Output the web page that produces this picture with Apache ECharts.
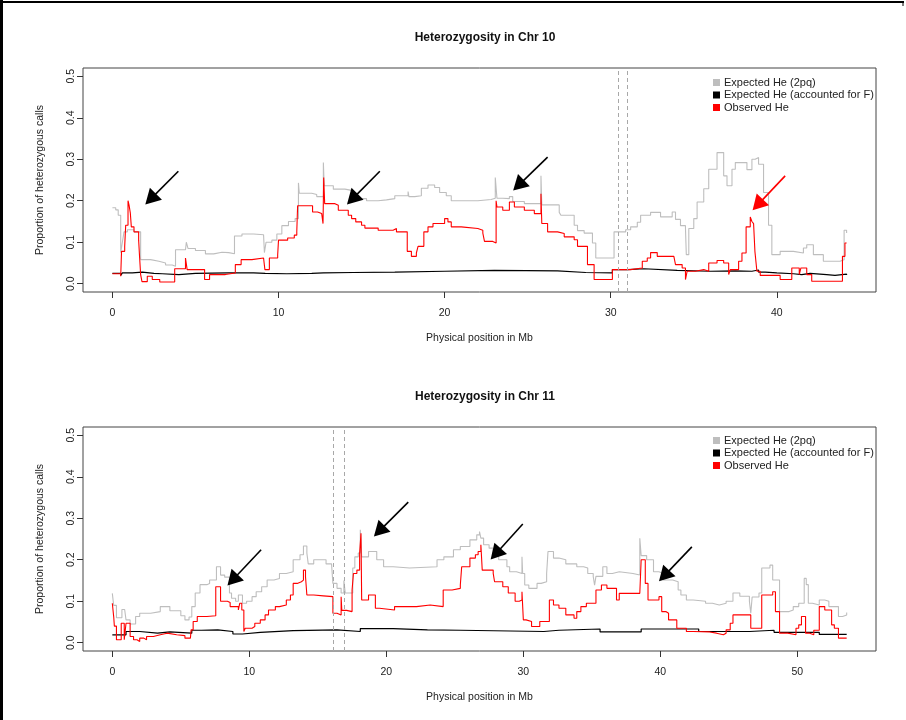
<!DOCTYPE html>
<html>
<head>
<meta charset="utf-8">
<title>Heterozygosity in Chr 10 and Chr 11</title>
<script src="https://cdn.jsdelivr.net/npm/echarts@6/dist/echarts.min.js"></script>
<style>
  html, body { margin: 0; padding: 0; background: #fff; }
  #chart { width: 906px; height: 720px; }
</style>
</head>
<body>
<div id="chart"></div>
<script>
// ---- Chromosome 10: [position (Mb), proportion] step breakpoints ----
const chr10Expected = [
  [0.0,0.183],[0.2,0.178],[0.35,0.165],[0.5,0.075],[0.6,0.1],[0.7,0.125],[0.9,0.13],[1.3,0.125],
  [1.7,0.058],[2.3,0.054],[2.8,0.05],[3.2,0.045],[3.6,0.042],[3.8,0.082],[4.4,0.085],[4.45,0.1],
  [4.55,0.085],[5.0,0.08],[5.6,0.072],[6.1,0.076],[6.6,0.075],[7.0,0.072],[7.35,0.115],[7.8,0.12],
  [8.5,0.118],[9.1,0.115],[9.15,0.075],[9.25,0.1],[9.6,0.105],[9.9,0.12],[10.2,0.14],[10.6,0.15],
  [11.0,0.157],[11.2,0.243],[11.25,0.218],[12.0,0.215],[12.3,0.21],[12.7,0.292],[12.75,0.236],
  [13.3,0.228],[14.0,0.225],[14.4,0.21],[14.8,0.205],[15.3,0.2],[16.0,0.202],[16.5,0.205],
  [17.0,0.212],[17.8,0.222],[17.85,0.21],[18.2,0.212],[18.6,0.23],[19.0,0.238],[19.4,0.232],
  [19.7,0.22],[20.1,0.212],[20.4,0.2],[21.0,0.2],[22.0,0.203],[22.8,0.206],[23.05,0.256],
  [23.15,0.206],[23.5,0.205],[23.9,0.21],[24.1,0.198],[24.8,0.193],[25.8,0.26],[25.85,0.19],
  [26.3,0.19],[26.9,0.172],[27.0,0.165],[27.8,0.141],[28.0,0.128],[28.4,0.122],[28.9,0.098],
  [29.1,0.062],[30.2,0.125],[30.9,0.13],[31.2,0.137],[31.6,0.148],[31.8,0.165],[32.4,0.172],
  [33.0,0.161],[33.7,0.173],[33.9,0.155],[34.2,0.14],[34.5,0.133],[34.55,0.07],[34.7,0.133],
  [35.0,0.157],[35.2,0.197],[35.6,0.229],[35.9,0.276],[36.4,0.316],[36.8,0.26],[37.0,0.236],
  [37.3,0.276],[37.5,0.292],[38.2,0.275],[38.5,0.3],[38.7,0.304],[38.9,0.288],[39.2,0.22],
  [39.5,0.141],[39.7,0.07],[40.2,0.078],[41.0,0.074],[41.6,0.086],[41.8,0.094],[42.2,0.07],
  [42.8,0.054],[43.8,0.058],[44.05,0.129],[44.2,0.122]
];
const chr10ExpectedF = [
  [0.0,0.025],[0.5,0.02],[0.6,0.026],[1.2,0.028],[1.8,0.025],[2.5,0.024],[3.0,0.022],[4.0,0.025],
  [5.0,0.026],[7.0,0.026],[8.5,0.025],[9.2,0.024],[10.5,0.025],[12.0,0.026],[12.7,0.029],
  [12.75,0.027],[14.5,0.028],[17.0,0.03],[20.0,0.032],[23.0,0.031],[26.8,0.027],[28.5,0.026],
  [30.1,0.034],[31.0,0.036],[32.0,0.032],[34.0,0.03],[36.0,0.031],[37.5,0.03],[38.5,0.033],
  [38.9,0.028],[39.3,0.026],[40.0,0.024],[41.0,0.022],[41.5,0.025],[42.0,0.022],[43.0,0.02],
  [43.5,0.023],[44.2,0.021]
];
const chr10Observed = [
  [0.0,0.024],[0.5,0.018],[0.55,0.078],[0.74,0.09],[0.8,0.141],[0.94,0.2],[1.0,0.19],[1.08,0.17],
  [1.14,0.137],[1.3,0.125],[1.58,0.105],[1.64,0.062],[1.7,0.022],[1.78,0.005],[2.1,0.018],
  [2.4,0.01],[2.85,0.004],[3.75,0.036],[4.4,0.062],[4.5,0.034],[5.55,0.01],[5.85,0.022],
  [6.8,0.026],[7.4,0.046],[7.75,0.058],[8.4,0.062],[9.1,0.065],[9.18,0.034],[9.45,0.062],
  [9.95,0.07],[10.0,0.105],[10.55,0.11],[10.95,0.117],[11.1,0.125],[11.15,0.188],[12.05,0.173],
  [12.35,0.169],[12.6,0.165],[12.68,0.145],[12.72,0.256],[12.78,0.193],[13.4,0.189],[13.6,0.177],
  [14.2,0.165],[14.4,0.157],[14.65,0.149],[15.0,0.141],[15.2,0.134],[16.0,0.129],[16.9,0.133],
  [17.1,0.125],[17.75,0.078],[18.0,0.066],[18.3,0.074],[18.4,0.09],[18.75,0.125],[19.0,0.137],
  [19.3,0.145],[20.0,0.157],[20.2,0.149],[20.4,0.137],[21.0,0.133],[22.0,0.129],[22.3,0.122],
  [22.4,0.102],[22.9,0.098],[23.1,0.2],[23.15,0.185],[23.5,0.177],[23.9,0.197],[24.2,0.185],
  [24.8,0.177],[25.4,0.169],[25.8,0.217],[25.85,0.145],[26.2,0.125],[26.8,0.121],[27.2,0.113],
  [27.8,0.106],[28.0,0.09],[28.6,0.046],[29.0,0.01],[30.1,0.034],[31.2,0.038],[31.9,0.054],
  [32.2,0.062],[32.4,0.075],[32.8,0.066],[33.8,0.062],[33.9,0.046],[34.3,0.038],[34.5,0.01],
  [34.6,0.03],[35.1,0.034],[35.6,0.03],[35.9,0.05],[36.4,0.056],[36.8,0.05],[37.1,0.022],
  [37.2,0.034],[37.7,0.054],[37.9,0.074],[38.15,0.137],[38.4,0.161],[38.5,0.15],[38.6,0.145],
  [38.68,0.078],[38.8,0.03],[39.0,0.02],[40.2,0.01],[40.9,0.038],[41.35,0.022],[41.45,0.038],
  [41.8,0.022],[42.1,0.006],[43.95,0.066],[44.1,0.098],[44.2,0.098]
];

// ---- Chromosome 11 ----
const chr11Expected = [
  [0.0,0.119],[0.1,0.09],[0.3,0.06],[0.7,0.08],[0.9,0.083],[1.0,0.055],[1.3,0.045],[1.7,0.063],
  [2.0,0.071],[2.8,0.075],[3.5,0.087],[4.2,0.077],[5.0,0.065],[5.3,0.055],[5.6,0.062],[5.8,0.087],
  [6.05,0.12],[6.4,0.14],[6.9,0.143],[7.1,0.151],[7.6,0.183],[7.9,0.163],[8.2,0.158],[8.55,0.12],
  [8.7,0.107],[9.0,0.1],[9.2,0.115],[9.5,0.095],[9.8,0.1],[10.2,0.111],[10.5,0.123],[10.9,0.135],
  [11.3,0.151],[11.8,0.155],[12.2,0.167],[12.7,0.171],[13.2,0.2],[13.7,0.212],[13.95,0.233],
  [14.2,0.216],[14.3,0.19],[14.7,0.2],[15.6,0.19],[16.0,0.187],[16.1,0.143],[16.4,0.131],
  [16.7,0.12],[16.9,0.15],[17.0,0.12],[17.55,0.18],[17.7,0.207],[17.95,0.216],[18.1,0.272],
  [18.2,0.207],[18.7,0.22],[19.3,0.2],[19.8,0.183],[20.5,0.18],[21.7,0.183],[23.7,0.2],
  [24.2,0.207],[24.9,0.224],[25.4,0.232],[26.1,0.248],[26.6,0.26],[26.8,0.268],[26.9,0.252],
  [27.1,0.236],[27.5,0.228],[27.8,0.216],[28.2,0.2],[28.8,0.183],[29.0,0.171],[29.5,0.167],
  [29.9,0.207],[29.95,0.167],[30.1,0.139],[30.4,0.131],[31.0,0.143],[31.3,0.147],[31.7,0.167],
  [31.8,0.22],[32.2,0.204],[32.6,0.2],[33.1,0.19],[33.9,0.183],[34.4,0.18],[34.7,0.167],
  [35.1,0.16],[35.2,0.139],[35.3,0.16],[35.8,0.183],[36.1,0.167],[36.5,0.171],[37.0,0.167],
  [38.0,0.163],[38.5,0.252],[38.6,0.21],[39.0,0.2],[39.5,0.171],[39.9,0.167],[40.2,0.151],
  [40.9,0.147],[41.3,0.127],[41.5,0.115],[41.9,0.103],[42.4,0.1],[43.3,0.095],[43.8,0.091],
  [44.3,0.095],[44.8,0.1],[45.3,0.12],[45.8,0.112],[46.5,0.1],[46.6,0.071],[46.7,0.11],
  [47.2,0.12],[47.4,0.18],[48.0,0.187],[48.2,0.151],[48.7,0.075],[49.4,0.079],[49.7,0.087],
  [50.1,0.095],[50.5,0.155],[50.65,0.14],[50.8,0.095],[51.1,0.091],[51.6,0.103],[52.0,0.1],
  [52.3,0.087],[53.0,0.063],[53.3,0.067],[53.6,0.073]
];
const chr11ExpectedF = [
  [0.0,0.019],[1.0,0.027],[2.0,0.023],[3.3,0.026],[4.2,0.023],[5.8,0.03],[6.5,0.031],[7.7,0.027],
  [8.8,0.021],[9.5,0.025],[10.8,0.029],[13.2,0.031],[16.4,0.027],[18.1,0.034],[20.5,0.031],
  [23.0,0.03],[25.4,0.027],[31.5,0.03],[32.6,0.033],[35.6,0.026],[38.6,0.033],[42.8,0.027],
  [46.5,0.03],[48.3,0.025],[51.6,0.02],[53.6,0.019]
];
const chr11Observed = [
  [0.0,0.095],[0.1,0.063],[0.15,0.04],[0.3,0.007],[0.65,0.047],[0.87,0.007],[1.0,0.047],
  [1.3,0.015],[1.55,0.007],[1.8,0.003],[2.0,0.011],[2.3,0.007],[2.5,0.015],[3.0,0.019],
  [3.5,0.023],[4.0,0.019],[4.7,0.017],[5.3,0.011],[5.7,0.009],[5.75,0.031],[5.9,0.051],
  [6.2,0.063],[6.9,0.065],[7.55,0.135],[7.9,0.1],[8.4,0.097],[8.6,0.087],[9.2,0.079],[9.3,0.095],
  [9.45,0.079],[9.6,0.027],[9.7,0.035],[10.2,0.039],[10.4,0.047],[10.8,0.055],[11.15,0.067],
  [11.4,0.079],[11.9,0.087],[12.2,0.091],[12.7,0.103],[13.0,0.115],[13.2,0.143],[13.5,0.147],
  [13.8,0.151],[13.95,0.175],[14.1,0.159],[14.2,0.115],[14.7,0.113],[15.4,0.111],[16.1,0.071],
  [16.4,0.067],[16.7,0.111],[16.75,0.078],[17.1,0.075],[17.5,0.127],[17.6,0.167],[17.85,0.175],
  [18.05,0.216],[18.15,0.264],[18.2,0.103],[18.7,0.115],[19.2,0.083],[19.5,0.079],[20.6,0.087],
  [22.2,0.091],[23.2,0.087],[24.15,0.127],[24.8,0.131],[25.4,0.139],[25.5,0.183],[26.1,0.204],
  [26.5,0.212],[26.7,0.22],[26.9,0.236],[27.0,0.175],[27.8,0.167],[27.9,0.147],[28.5,0.135],
  [28.9,0.12],[29.4,0.1],[29.7,0.103],[29.9,0.123],[30.0,0.055],[30.2,0.051],[30.6,0.039],
  [31.2,0.051],[31.9,0.103],[32.2,0.091],[32.6,0.083],[33.1,0.067],[33.7,0.059],[33.9,0.075],
  [34.2,0.087],[34.6,0.095],[35.3,0.127],[35.7,0.139],[36.1,0.131],[36.8,0.103],[37.0,0.119],
  [38.5,0.119],[38.6,0.2],[38.9,0.143],[39.1,0.103],[39.9,0.111],[40.1,0.075],[40.4,0.071],
  [40.6,0.055],[41.2,0.035],[41.9,0.027],[42.4,0.026],[43.6,0.023],[44.1,0.019],[44.6,0.023],
  [44.8,0.031],[45.1,0.047],[45.3,0.067],[46.6,0.035],[47.4,0.115],[48.2,0.123],[48.4,0.075],
  [48.7,0.023],[49.3,0.019],[49.9,0.035],[50.1,0.043],[50.3,0.063],[50.6,0.023],[50.9,0.019],
  [51.2,0.03],[51.6,0.087],[52.0,0.079],[52.5,0.043],[52.7,0.035],[53.0,0.011],[53.6,0.011]
];

// Boundary markers (dashed verticals), Mb
const chr10Markers = [30.45, 30.97];
const chr11Markers = [16.1, 16.9];

// Annotation arrows: [tail, head] in data coordinates, plus colour
const chr10Arrows = [
  { from: [3.97, 0.271], to: [2.3, 0.204], color: '#000000' },
  { from: [16.1, 0.271], to: [14.44, 0.204], color: '#000000' },
  { from: [26.2, 0.305], to: [24.45, 0.237], color: '#000000' },
  { from: [40.5, 0.26],  to: [38.85, 0.19], color: '#ff0000' }
];
const chr11Arrows = [
  { from: [10.86, 0.224], to: [8.78, 0.151], color: '#000000' },
  { from: [21.6, 0.339],  to: [19.48, 0.269], color: '#000000' },
  { from: [29.96, 0.286], to: [27.98, 0.214], color: '#000000' },
  { from: [42.3, 0.231],  to: [40.28, 0.161], color: '#000000' }
];

// Axis ticks and ranges
const yTicks = [0, 0.1, 0.2, 0.3, 0.4, 0.5];
const chr10XTicks = [0, 10, 20, 30, 40];
const chr11XTicks = [0, 10, 20, 30, 40, 50];
const chr10XRange = [-1.77, 45.97];
const chr11XRange = [-2.14, 55.74];
const yRange = [-0.02, 0.52];

const seriesNames = ['Expected He (2pq)', 'Expected He (accounted for F)', 'Observed He'];
const seriesColors = ['#bebebe', '#000000', '#ff0000'];

const FONT = '"Liberation Sans", Arial, Helvetica, sans-serif';

function xAxisFor(gridIndex, range, ticks) {
  return {
    type: 'value', gridIndex, min: range[0], max: range[1],
    name: 'Physical position in Mb', nameLocation: 'middle', nameGap: 41,
    nameTextStyle: { fontFamily: FONT, fontSize: 10.5, color: '#222' },
    axisLine: { show: false, onZero: false },
    axisTick: { show: true, length: 6, customValues: ticks, lineStyle: { color: '#333' } },
    axisLabel: { customValues: ticks, margin: 16, fontFamily: FONT, fontSize: 10.5, color: '#222' },
    splitLine: { show: false }
  };
}
function yAxisFor(gridIndex) {
  return {
    type: 'value', gridIndex, min: yRange[0], max: yRange[1],
    name: 'Proportion of heterozygous calls', nameLocation: 'middle', nameGap: 37,
    nameTextStyle: { fontFamily: FONT, fontSize: 10.5, color: '#222' },
    axisLine: { show: false, onZero: false },
    axisTick: { show: true, length: 6, customValues: yTicks, lineStyle: { color: '#333' } },
    axisLabel: {
      customValues: yTicks, rotate: 90, margin: 6,
      fontFamily: FONT, fontSize: 10.5, color: '#222',
      formatter: v => v.toFixed(1)
    },
    splitLine: { show: false }
  };
}

function markerLines(markers, arrows) {
  const data = markers.map(x => ({
    xAxis: x,
    lineStyle: { type: [4, 3], color: '#a8a8a8', width: 1 }
  }));
  arrows.forEach(a => {
    data.push([
      { coord: a.from, symbol: 'none', lineStyle: { color: a.color, width: 1.6, type: 'solid' } },
      { coord: a.to, symbol: 'triangle', symbolSize: [17, 15] }
    ]);
  });
  return {
    silent: true, animation: false,
    symbol: ['none', 'none'],
    label: { show: false },
    emphasis: { disabled: true },
    data
  };
}

function seriesFor(idx, sets, markers, arrows) {
  return sets.map((data, i) => {
    const s = {
      name: seriesNames[i], type: 'line', xAxisIndex: idx, yAxisIndex: idx,
      data, step: 'end', showSymbol: false, symbol: 'none',
      color: seriesColors[i],
      lineStyle: { color: seriesColors[i], width: i === 1 ? 1.2 : 1.1 },
      z: 2 + i, animation: false, silent: true
    };
    if (i === 0) s.markLine = markerLines(markers, arrows);
    return s;
  });
}

const legendBase = {
  orient: 'vertical', left: 713, icon: 'rect', itemWidth: 7, itemHeight: 7,
  itemGap: 1.5, padding: 0, selectedMode: false,
  textStyle: { fontFamily: FONT, fontSize: 11, color: '#222', padding: [0, 0, 0, -1] },
  data: seriesNames
};

const chart = echarts.init(document.getElementById('chart'), null, { renderer: 'canvas' });
chart.setOption({
  backgroundColor: '#ffffff',
  animation: false,
  title: [
    { text: 'Heterozygosity in Chr 10', left: 480, top: 27, textAlign: 'center',
      textStyle: { fontFamily: FONT, fontSize: 12, fontWeight: 'bold', color: '#111' } },
    { text: 'Heterozygosity in Chr 11', left: 480, top: 386, textAlign: 'center',
      textStyle: { fontFamily: FONT, fontSize: 12, fontWeight: 'bold', color: '#111' } }
  ],
  legend: [
    Object.assign({}, legendBase, { top: 77 }),
    Object.assign({}, legendBase, { top: 435 })
  ],
  grid: [
    { left: 83, top: 68, width: 793, height: 224, show: true, borderColor: '#444', borderWidth: 1, backgroundColor: 'transparent' },
    { left: 83, top: 427, width: 793, height: 224, show: true, borderColor: '#444', borderWidth: 1, backgroundColor: 'transparent' }
  ],
  xAxis: [xAxisFor(0, chr10XRange, chr10XTicks), xAxisFor(1, chr11XRange, chr11XTicks)],
  yAxis: [yAxisFor(0), yAxisFor(1)],
  series: [
    ...seriesFor(0, [chr10Expected, chr10ExpectedF, chr10Observed], chr10Markers, chr10Arrows),
    ...seriesFor(1, [chr11Expected, chr11ExpectedF, chr11Observed], chr11Markers, chr11Arrows)
  ],
  graphic: [
    { type: 'line', shape: { x1: 1.5, y1: 0, x2: 1.5, y2: 720 }, style: { stroke: '#000', lineWidth: 3 } },
    { type: 'line', shape: { x1: 0, y1: 2, x2: 904, y2: 2 }, style: { stroke: '#000', lineWidth: 2 } },
    { type: 'line', shape: { x1: 903, y1: 1, x2: 903, y2: 6 }, style: { stroke: '#000', lineWidth: 1 } }
  ]
});
</script>
</body>
</html>
